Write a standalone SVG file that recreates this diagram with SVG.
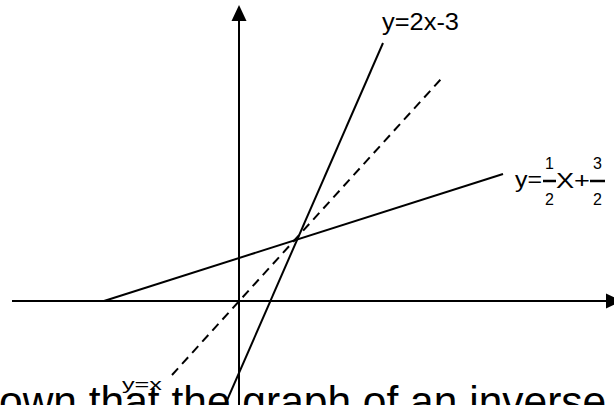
<svg xmlns="http://www.w3.org/2000/svg" width="614" height="405" viewBox="0 0 614 405">
<style>
.ax{stroke:#000;stroke-width:2;fill:none}
.ln{stroke:#000;stroke-width:2;fill:none}
.dash{stroke:#000;stroke-width:2;fill:none;stroke-dasharray:9 6}
.lbl{font-family:"Liberation Sans",Arial,sans-serif;fill:#000}
.big{font-family:"Liberation Sans",Arial,sans-serif;font-size:42.5px;fill:#000}
</style>
<defs>
<marker id="ah" markerWidth="16" markerHeight="16" refX="0" refY="8" orient="auto" markerUnits="userSpaceOnUse">
<path d="M0,0.5 L16,8 L0,15.5 Z" fill="#000"/>
</marker>
</defs>
<rect width="614" height="405" fill="#fff"/>
<g id="connectors">
<line class="ax" x1="12" y1="301" x2="606" y2="301" marker-end="url(#ah)"/>
<line class="ax" x1="239" y1="405" x2="239" y2="21" marker-end="url(#ah)"/>
<line class="dash" x1="172" y1="375" x2="441" y2="79"/>
<line class="ln" x1="383" y1="43" x2="225" y2="405"/>
<line class="ln" x1="104" y1="301" x2="503" y2="174"/>
</g>
<g id="label-2x">
<text class="lbl" x="382" y="30" font-size="23" textLength="77" lengthAdjust="spacingAndGlyphs">y=2x-3</text>
</g>
<g id="label-half">
<text class="lbl" x="515" y="187" font-size="22" textLength="27" lengthAdjust="spacingAndGlyphs">y=</text>
<text class="lbl" x="549.5" y="169" font-size="16" text-anchor="middle">1</text>
<line x1="543" y1="181" x2="556" y2="181" stroke="#000" stroke-width="2.5"/>
<text class="lbl" x="549.5" y="205" font-size="16" text-anchor="middle">2</text>
<text class="lbl" x="556" y="188" font-size="22" textLength="34" lengthAdjust="spacingAndGlyphs">X+</text>
<text class="lbl" x="597.5" y="169" font-size="16" text-anchor="middle">3</text>
<line x1="590" y1="181" x2="605" y2="181" stroke="#000" stroke-width="2.5"/>
<text class="lbl" x="597.5" y="205" font-size="16" text-anchor="middle">2</text>
</g>
<g id="caption">
<text class="big" x="-1" y="416">own that the graph of an inverse</text>
</g>
<g id="label-yx">
<text class="lbl" x="122" y="390" font-size="17" textLength="40" lengthAdjust="spacingAndGlyphs">y=x</text>
</g>
</svg>
